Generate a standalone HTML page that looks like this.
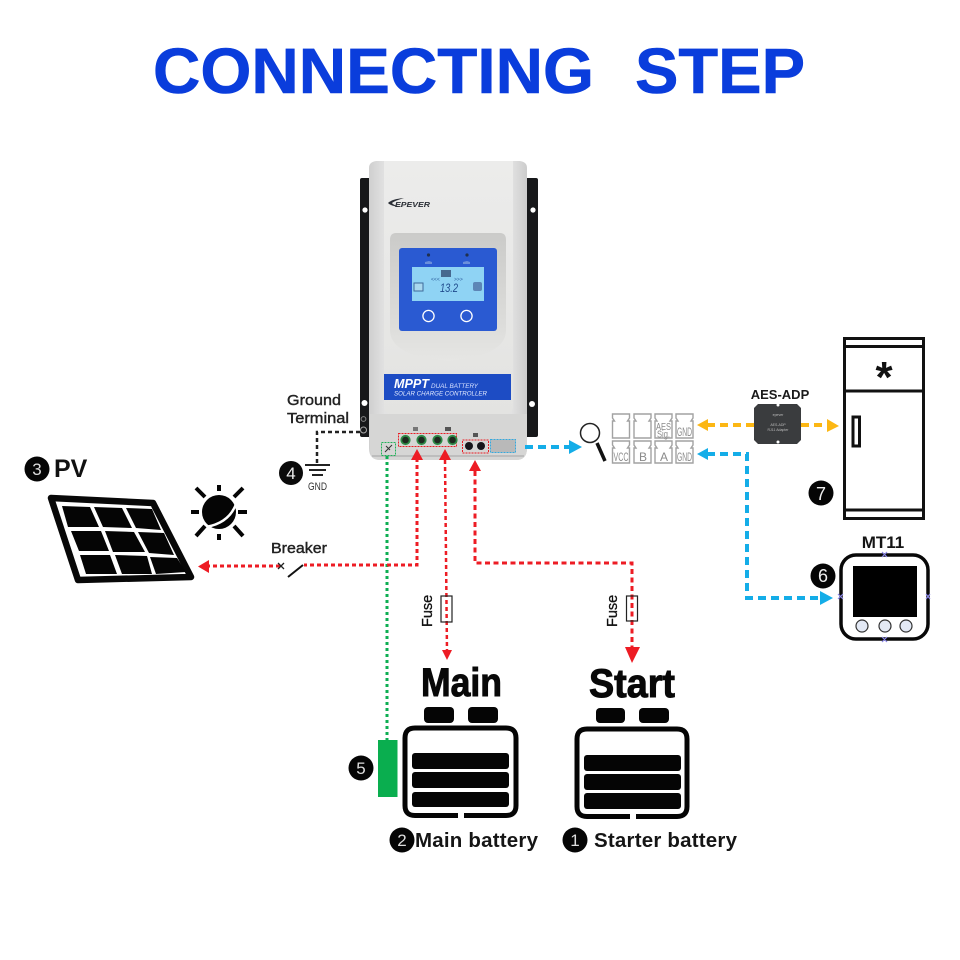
<!DOCTYPE html>
<html><head><meta charset="utf-8"><style>html,body{margin:0;padding:0;background:#fff}svg{display:block}text{font-family:"Liberation Sans",sans-serif}</style></head><body>
<svg width="960" height="960" viewBox="0 0 960 960" xmlns="http://www.w3.org/2000/svg">
<defs>
<linearGradient id="body" x1="0" x2="1" y1="0" y2="0"><stop offset="0" stop-color="#cfcfcf"/><stop offset=".1" stop-color="#e2e2e2"/><stop offset=".9" stop-color="#e2e2e2"/><stop offset="1" stop-color="#cccccc"/></linearGradient>
<linearGradient id="cover" x1="0" x2="0" y1="0" y2="1"><stop offset="0" stop-color="#ececeb"/><stop offset="1" stop-color="#e3e3e1"/></linearGradient>
<linearGradient id="recess" x1="0" x2="0" y1="0" y2="1"><stop offset="0" stop-color="#cbcbc9"/><stop offset=".7" stop-color="#dcdcda"/><stop offset="1" stop-color="#e6e6e4"/></linearGradient>
</defs>
<g font-size="64" font-weight="700" fill="#0a3ddc" stroke="#0a3ddc" stroke-width=".6">
<text x="153" y="93" textLength="441" lengthAdjust="spacingAndGlyphs">CONNECTING</text>
<text x="635" y="93" textLength="170" lengthAdjust="spacingAndGlyphs">STEP</text>
</g>

<!-- controller -->
<rect x="360" y="178" width="178" height="259" rx="2" fill="#17181a"/>
<circle cx="365" cy="210" r="2.600" fill="#fff"/><circle cx="533" cy="210" r="2.600" fill="#fff"/>
<circle cx="364.500" cy="403" r="3" fill="#fff"/><circle cx="532" cy="404" r="3" fill="#fff"/>
<path d="M369 168Q369 162 376 161L520 161Q527 162 527 168L527 448Q527 460 516 460L380 460Q369 460 369 448Z" fill="url(#body)"/>
<path d="M384 161H513V406Q513 414 505 414H392Q384 414 384 406Z" fill="url(#cover)"/>
<path d="M370 414H527V448Q527 460 516 460H381Q370 460 370 448Z" fill="#d6d6d5"/>
<path d="M372 456H524" stroke="#bdbdbd" stroke-width="2"/>
<path d="M396 233H500Q506 233 506 240V330Q506 356 448 361Q390 356 390 330V240Q390 233 396 233Z" fill="url(#recess)"/>
<rect x="399" y="248" width="98" height="83" rx="3" fill="#2a5ad2"/>
<rect x="412" y="267" width="72" height="34" fill="#8fd3f4"/>
<text x="440" y="292" font-size="12" font-style="italic" fill="#1f4a8c" textLength="18" lengthAdjust="spacingAndGlyphs">13.2</text>
<rect x="441" y="270" width="10" height="7" fill="#46688f"/>
<rect x="414" y="283" width="9" height="8" fill="#a9d8ef" stroke="#3e6a9a" stroke-width="1"/>
<rect x="473" y="282" width="9" height="9" rx="2" fill="#5d86b6"/>
<text x="431" y="281" font-size="5" fill="#2b5c9c">&lt;&lt;&lt;</text><text x="454" y="281" font-size="5" fill="#2b5c9c">&gt;&gt;&gt;</text>
<circle cx="428.500" cy="255" r="1.600" fill="#20304f"/><circle cx="467" cy="255" r="1.600" fill="#20304f"/>
<circle cx="428.500" cy="316" r="5.600" fill="none" stroke="#fff" stroke-width="1.300"/><circle cx="466.500" cy="316" r="5.600" fill="none" stroke="#fff" stroke-width="1.300"/>
<path d="M425 262l4-1 3 1v2h-7zM463 262l4-1 3 1v2h-7z" fill="#6b8fdb"/>
<rect x="384" y="374" width="127" height="26" fill="#1d4cc4"/>
<text x="394" y="388" font-size="13" font-weight="700" font-style="italic" fill="#fff" textLength="35" lengthAdjust="spacingAndGlyphs">MPPT</text>
<text x="431" y="388" font-size="6.500" font-style="italic" fill="#d6e0ff" textLength="47" lengthAdjust="spacingAndGlyphs">DUAL BATTERY</text>
<text x="394" y="395.500" font-size="6.500" font-style="italic" fill="#e4ebff" textLength="93" lengthAdjust="spacingAndGlyphs">SOLAR CHARGE CONTROLLER</text>
<path d="M388 203Q392 199 404 198Q394 201 392 203Q394 206 404 207Q392 207 388 203Z" fill="#2b2f36"/>
<text x="395" y="207" font-size="7.500" font-weight="700" font-style="italic" fill="#2b2f36" textLength="35" lengthAdjust="spacingAndGlyphs">EPEVER</text>
<circle cx="363.500" cy="419" r="2.400" fill="none" stroke="#888" stroke-width="1"/><circle cx="363.500" cy="430" r="3" fill="none" stroke="#aaa" stroke-width="1"/>

<!-- terminals -->
<rect x="398.500" y="433.500" width="58" height="13" fill="none" stroke="#e91c24" stroke-width="1" stroke-dasharray="2 1"/>
<g fill="#1e2a20" stroke="#2d8a46" stroke-width="1.800"><circle cx="405.500" cy="440" r="4.200"/><circle cx="421.500" cy="440" r="4.200"/><circle cx="437.500" cy="440" r="4.200"/><circle cx="452.500" cy="440" r="4.200"/></g>
<rect x="462.500" y="440" width="26" height="13" fill="none" stroke="#e91c24" stroke-width="1" stroke-dasharray="2 1"/>
<circle cx="469" cy="446" r="4" fill="#15151a"/><circle cx="481" cy="446" r="4" fill="#15151a"/>
<rect x="490.500" y="439.500" width="25" height="13" fill="#b9b9b9" stroke="#35a8dd" stroke-width="1" stroke-dasharray="2 1"/>
<rect x="381.500" y="442.500" width="14" height="13" fill="none" stroke="#22b259" stroke-width="1" stroke-dasharray="2 1"/>
<path d="M385 452l7-7M386 446l4 4" stroke="#333" stroke-width="1"/>
<rect x="413" y="427" width="5" height="4" fill="#777"/><rect x="445" y="427" width="6" height="4" fill="#555"/><rect x="473" y="433" width="5" height="4" fill="#555"/>

<!-- wires -->
<path d="M387 456V740" fill="none" stroke="#0dae52" stroke-width="3" stroke-dasharray="3 3"/>
<path d="M417 458V565H304" fill="none" stroke="#ed1c24" stroke-width="3" stroke-dasharray="4 3"/>
<path d="M280 566H208" fill="none" stroke="#ed1c24" stroke-width="3" stroke-dasharray="4 3"/>
<path d="M209 560L198 566.500L209 573Z" fill="#ed1c24"/>
<path d="M417 449L411 460H423Z M445 449L439 460H451Z M475 460L469 471H481Z" fill="#ed1c24"/>
<path d="M445 460L447 652" fill="none" stroke="#ed1c24" stroke-width="2.500" stroke-dasharray="4 3"/>
<path d="M442 650L447 660L452 650Z" fill="#ed1c24"/>
<path d="M475 471V563H632V648" fill="none" stroke="#ed1c24" stroke-width="3" stroke-dasharray="5 3.500"/>
<path d="M625 647L632 663L640 647Z" fill="#ed1c24"/>
<rect x="441" y="596" width="11" height="26" fill="none" stroke="#222" stroke-width="1.200"/>
<rect x="626.500" y="596" width="11" height="25" fill="none" stroke="#222" stroke-width="1.200"/>
<text transform="translate(432,627) rotate(-90)" font-size="14.500" fill="#111" stroke="#111" stroke-width=".3">Fuse</text>
<text transform="translate(617,627) rotate(-90)" font-size="14.500" fill="#111" stroke="#111" stroke-width=".3">Fuse</text>

<path d="M360 432H317V463" fill="none" stroke="#222" stroke-width="2.500" stroke-dasharray="4 3"/>
<text x="287" y="405" font-size="15" fill="#222" stroke="#222" stroke-width=".4" textLength="54" lengthAdjust="spacingAndGlyphs">Ground</text>
<text x="287" y="423" font-size="15" fill="#222" stroke="#222" stroke-width=".4" textLength="62" lengthAdjust="spacingAndGlyphs">Terminal</text>
<circle cx="291" cy="473" r="12" fill="#0a0a0a"/>
<text x="291" y="479" font-size="17" fill="#eee" text-anchor="middle">4</text>
<path d="M305 465H330M309 470H326M312 475H323" stroke="#222" stroke-width="2"/>
<text x="308" y="490" font-size="11" fill="#333" textLength="19" lengthAdjust="spacingAndGlyphs">GND</text>

<!-- blue/yellow lines -->
<path d="M525 447H570" fill="none" stroke="#14ade8" stroke-width="4" stroke-dasharray="8 5"/>
<path d="M569 440L582 447L569 454Z" fill="#14ade8"/>
<path d="M707 454H747V598H822" fill="none" stroke="#14ade8" stroke-width="4" stroke-dasharray="8 5"/>
<path d="M708 448L697 454L708 460Z M820 591L833 598L820 605Z" fill="#14ade8"/>
<path d="M707 425H755M801 425H828" fill="none" stroke="#fcb714" stroke-width="4" stroke-dasharray="8 5"/>
<path d="M708 419L697 425L708 431Z M827 419L839 426L827 432Z" fill="#fcb714"/>

<!-- magnifier -->
<circle cx="590" cy="433" r="9.500" fill="#fff" stroke="#222" stroke-width="1.500"/>
<path d="M597 443L605 461" stroke="#111" stroke-width="3.500"/>

<!-- connector icons -->
<g fill="#fff" stroke="#a2a2a2" stroke-width="1.400">
<path d="M612.500 414h17v4l-2 3h2v17h-17v-17h2l-2-3z"/>
<path d="M634 414h17v4l-2 3h2v17h-17v-17h2l-2-3z"/>
<path d="M655 414h17v4l-2 3h2v17h-17v-17h2l-2-3z"/>
<path d="M676 414h17v4l-2 3h2v17h-17v-17h2l-2-3z"/>
<path d="M612.500 441h17v4l-2 3h2v15h-17v-15h2l-2-3z"/>
<path d="M634 441h17v4l-2 3h2v15h-17v-15h2l-2-3z"/>
<path d="M655 441h17v4l-2 3h2v15h-17v-15h2l-2-3z"/>
<path d="M676 441h17v4l-2 3h2v15h-17v-15h2l-2-3z"/>
</g>
<g font-size="12" fill="#8a8a8a">
<text x="656" y="430" font-size="10" textLength="15" lengthAdjust="spacingAndGlyphs">AES</text><text x="657" y="437.500" font-size="10" textLength="13" lengthAdjust="spacingAndGlyphs">Sig.</text><text x="677" y="436" textLength="15" lengthAdjust="spacingAndGlyphs">GND</text>
<text x="613.500" y="461" textLength="15" lengthAdjust="spacingAndGlyphs">VCC</text><text x="639" y="461">B</text><text x="660" y="461">A</text><text x="677" y="461" textLength="15" lengthAdjust="spacingAndGlyphs">GND</text>
</g>

<!-- AES-ADP -->
<text x="780" y="399" font-size="13" font-weight="700" fill="#1a1a1a" text-anchor="middle">AES-ADP</text>
<path d="M758 404H797L801 408V440L797 444H758L754 440V408Z" fill="#3a3c3e"/>
<circle cx="778" cy="405" r="1.500" fill="#fff"/><circle cx="778" cy="442" r="1.500" fill="#fff"/>
<text x="778" y="426" font-size="3.500" fill="#bbb" text-anchor="middle">AES-ADP</text>
<text x="778" y="431" font-size="3.500" fill="#bbb" text-anchor="middle">RJ11 Adapter</text>
<text x="778" y="416" font-size="3.500" fill="#bbb" text-anchor="middle">epever</text>

<!-- fridge -->
<g fill="none" stroke="#111" stroke-width="3">
<rect x="844.500" y="338.500" width="79" height="180"/>
<path d="M844 346.500H924M844 391H924M844 510H924" />
</g>
<rect x="853" y="417" width="6.500" height="29" fill="#fff" stroke="#111" stroke-width="3"/>
<text x="884" y="392" font-size="44" font-weight="700" fill="#111" text-anchor="middle">*</text>
<circle cx="821" cy="493" r="12.500" fill="#050505"/>
<text x="821" y="500" font-size="18" fill="#eee" text-anchor="middle">7</text>

<!-- MT11 -->
<text x="883" y="548" font-size="17" font-weight="700" fill="#151515" text-anchor="middle">MT11</text>
<rect x="841" y="555" width="87" height="84" rx="15" fill="#fff" stroke="#080808" stroke-width="3.500"/>
<rect x="853" y="566" width="64" height="51" fill="#000"/>
<g fill="#e3e9f5" stroke="#333" stroke-width="1.200"><circle cx="862" cy="626" r="6"/><circle cx="885" cy="626" r="6"/><circle cx="906" cy="626" r="6"/></g>
<g stroke="#8b86e8" stroke-width="1.200"><path d="M882 552l5 5M887 552l-5 5M838 594l5 5M843 594l-5 5M926 594l4 5M930 594l-4 5M882 637l5 5M887 637l-5 5"/></g>
<circle cx="823" cy="576" r="12.500" fill="#050505"/>
<text x="823" y="582" font-size="18" fill="#eee" text-anchor="middle">6</text>

<!-- PV -->
<circle cx="37" cy="469" r="12.500" fill="#050505"/>
<text x="37" y="475" font-size="17" fill="#ddd" text-anchor="middle">3</text>
<text x="54" y="477" font-size="25" font-weight="700" fill="#111">PV</text>
<path d="M51 498L153 503L191 577L78 580Z" fill="#fff" stroke="#080808" stroke-width="6.500" stroke-linejoin="round"/>
<g fill="#050505">
<path d="M62 506L90 507L99 527L68 527Z"/><path d="M94 507L122 508L132 528L103 527Z"/><path d="M126 508L152 509L161 530L136 528Z"/>
<path d="M71 531L101 531L109 551L79 551Z"/><path d="M105 531L134 532L145 552L113 552Z"/><path d="M138 532L164 533L174 555L149 553Z"/>
<path d="M80 555L110 555L117 574L86 574Z"/><path d="M115 555L147 556L152 574L122 574Z"/><path d="M150 557L177 558L186 572L156 574Z"/>
</g>
<circle cx="219" cy="512" r="17" fill="#050505"/>
<path d="M206 527Q229 523 236 504" fill="none" stroke="#fff" stroke-width="2.500"/>
<g stroke="#050505" stroke-width="4"><path d="M219 485V491M219 534V540M191 512H199M238 512H247M196 488L205 497M243 488L234 497M196 536L205 526M243 536L234 526"/></g>
<text x="271" y="553" font-size="14.500" fill="#222" stroke="#222" stroke-width=".4" textLength="56" lengthAdjust="spacingAndGlyphs">Breaker</text>
<path d="M278 563l6 6M284 563l-6 6" stroke="#222" stroke-width="1.300"/>
<path d="M288 577L303 565" stroke="#111" stroke-width="2"/>

<!-- batteries -->
<text x="421" y="696" font-size="40" font-weight="700" fill="#080808" stroke="#080808" stroke-width="1" textLength="81" lengthAdjust="spacingAndGlyphs">Main</text>
<text x="589" y="697" font-size="40" font-weight="700" fill="#080808" stroke="#080808" stroke-width="1" textLength="86" lengthAdjust="spacingAndGlyphs">Start</text>
<g fill="#050505">
<rect x="424" y="707" width="30" height="16" rx="4"/><rect x="468" y="707" width="30" height="16" rx="4"/>
<rect x="596" y="708" width="29" height="15" rx="4"/><rect x="639" y="708" width="30" height="15" rx="4"/>
<rect x="412" y="753" width="97" height="16" rx="3"/><rect x="412" y="772" width="97" height="16" rx="3"/><rect x="412" y="792" width="97" height="15" rx="3"/>
<rect x="584" y="755" width="97" height="16" rx="3"/><rect x="584" y="774" width="97" height="16" rx="3"/><rect x="584" y="793" width="97" height="16" rx="3"/>
</g>
<path d="M458 815.500H415Q405 815.500 405 805.500V738Q405 728 415 728H506Q516 728 516 738V805.500Q516 815.500 506 815.500H464" fill="none" stroke="#050505" stroke-width="5"/>
<path d="M630 816.500H587Q577 816.500 577 806.500V739Q577 729 587 729H677Q687 729 687 739V806.500Q687 816.500 677 816.500H636" fill="none" stroke="#050505" stroke-width="5"/>
<rect x="378" y="740" width="19.500" height="57" fill="#0aae4f"/>
<circle cx="361" cy="768" r="12.500" fill="#050505"/>
<text x="361" y="774" font-size="17" fill="#ddd" text-anchor="middle">5</text>
<circle cx="402" cy="840" r="12.500" fill="#050505"/>
<text x="402" y="846" font-size="17" fill="#ddd" text-anchor="middle">2</text>
<text x="415" y="847" font-size="20.500" font-weight="700" fill="#151515" textLength="123" lengthAdjust="spacing">Main battery</text>
<circle cx="575" cy="840" r="12.500" fill="#050505"/>
<text x="575" y="846" font-size="17" fill="#ddd" text-anchor="middle">1</text>
<text x="594" y="847" font-size="20.500" font-weight="700" fill="#151515" textLength="143" lengthAdjust="spacing">Starter battery</text>
</svg>
</body></html>
